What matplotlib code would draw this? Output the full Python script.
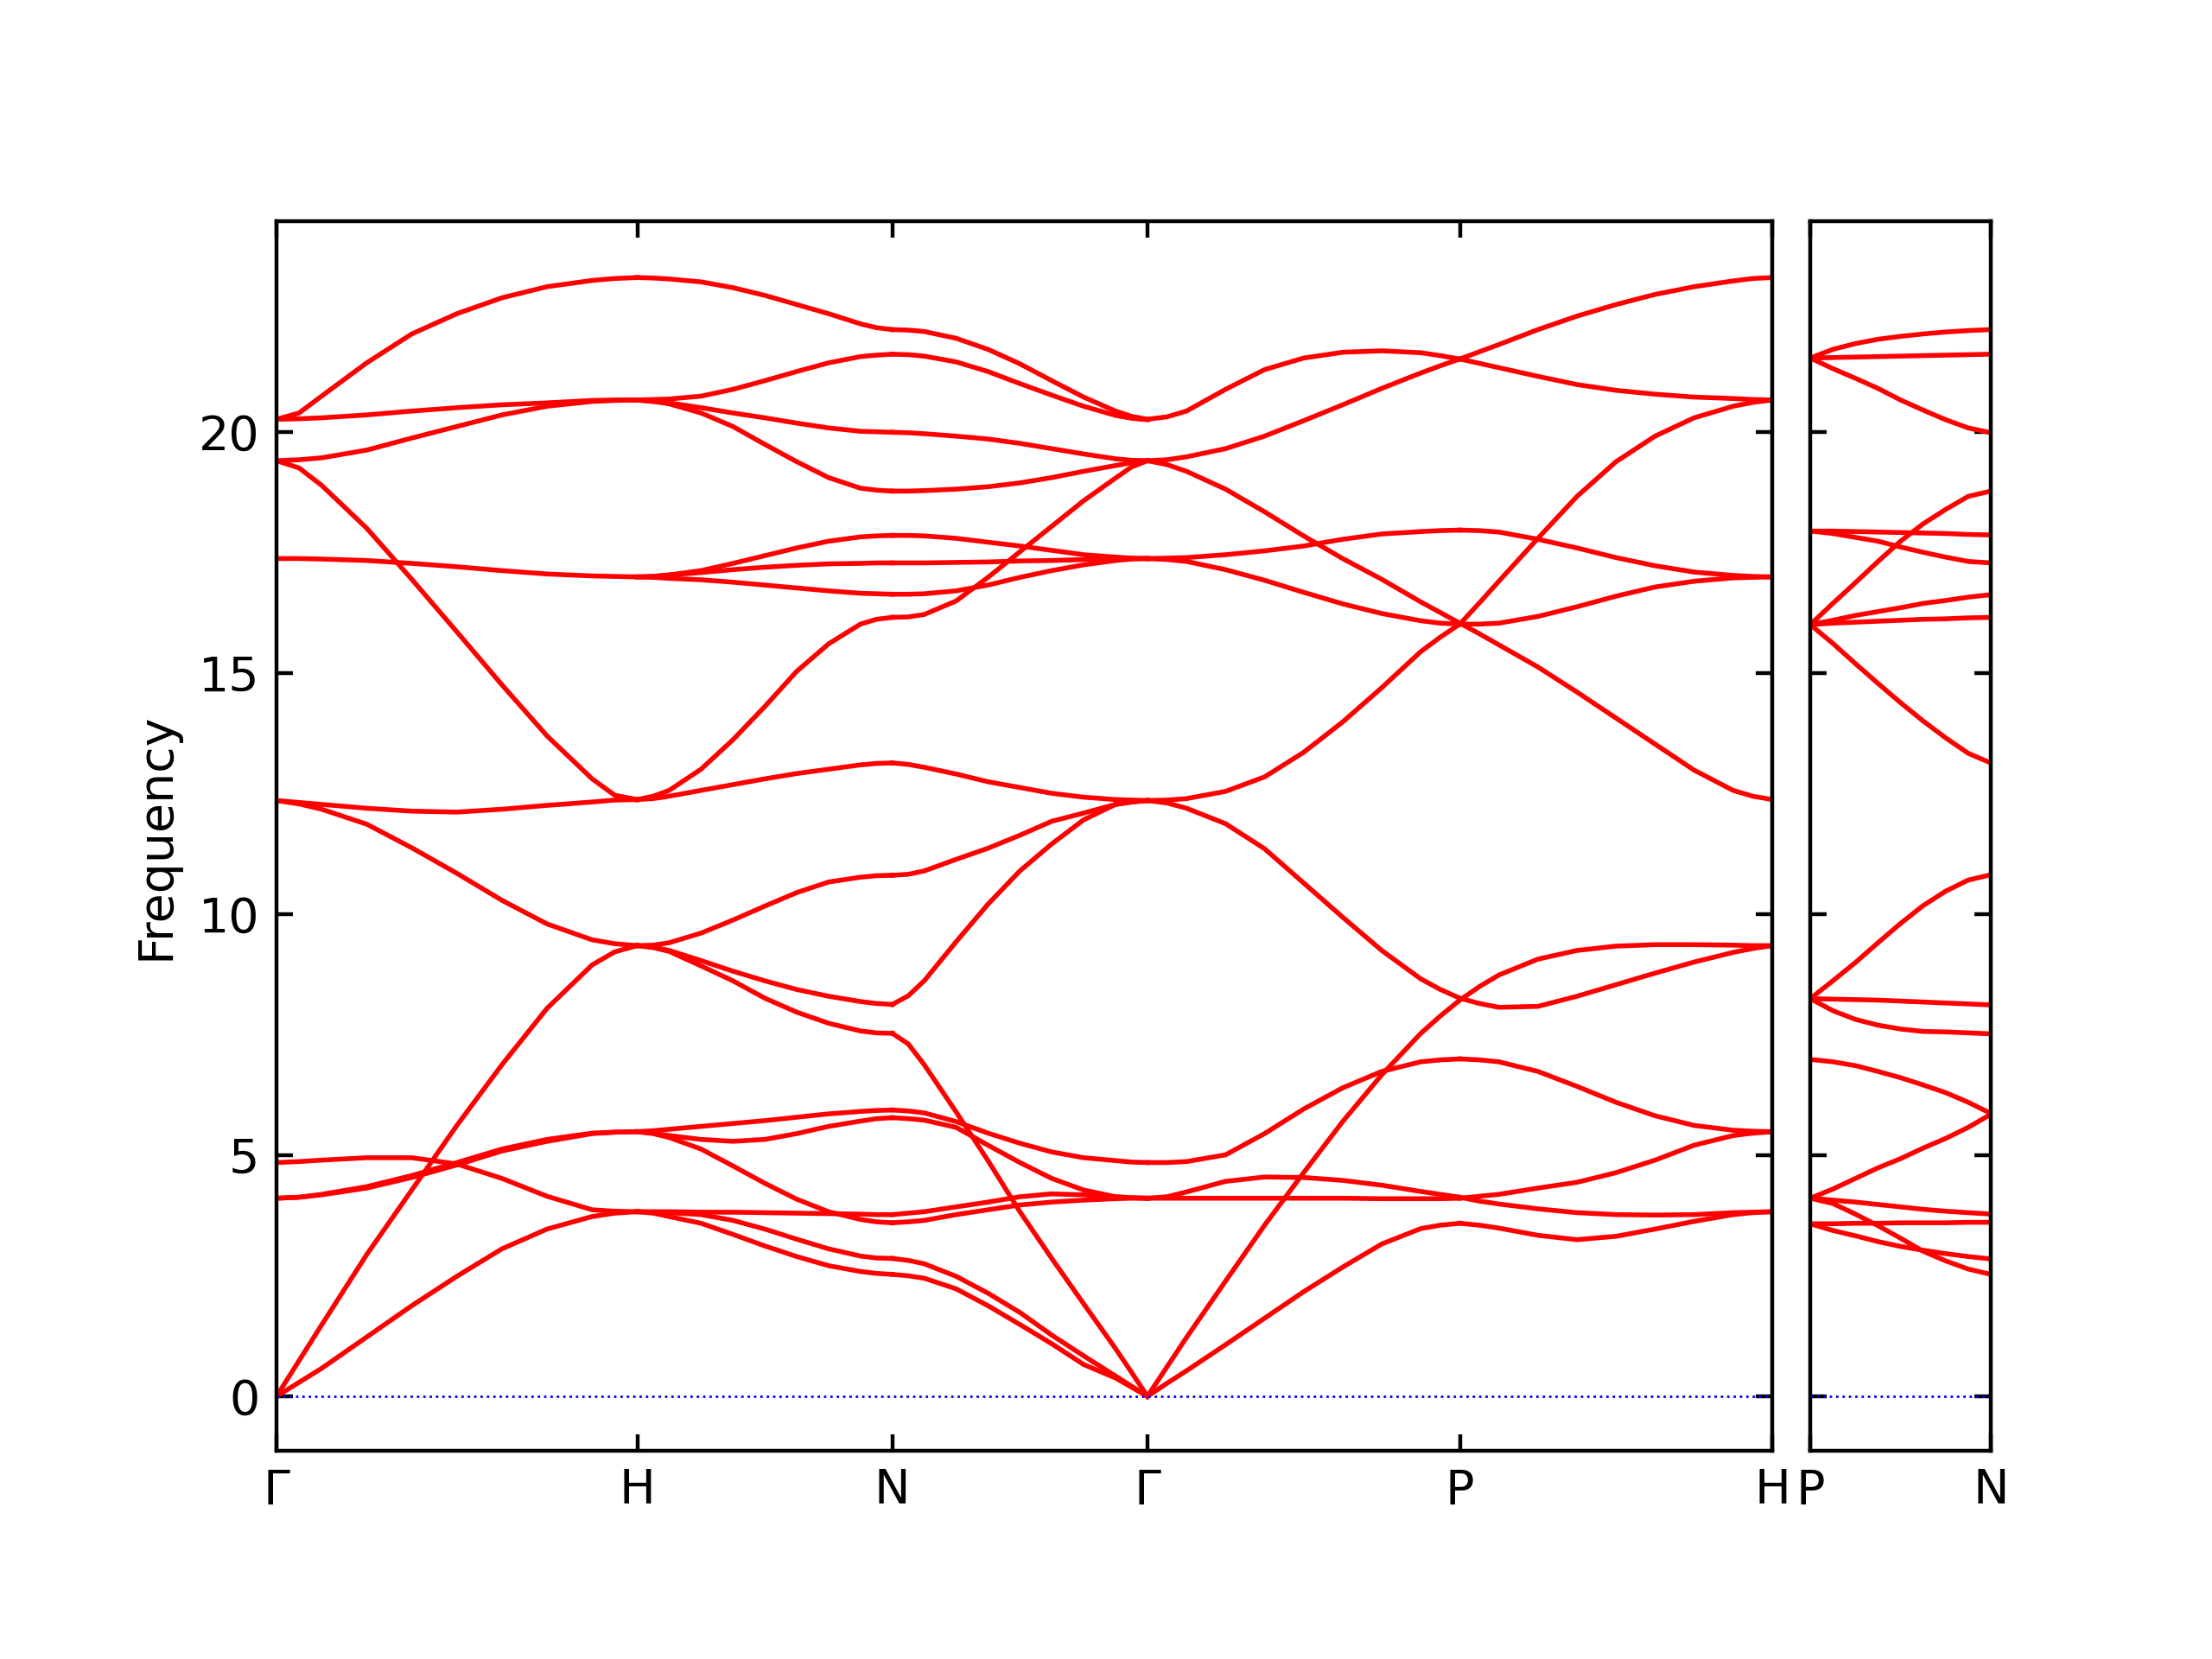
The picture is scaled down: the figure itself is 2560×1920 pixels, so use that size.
import numpy as np
import matplotlib
matplotlib.use("Agg")
import matplotlib.pyplot as plt

# Phonon frequencies.
# Main path samples sit at these fractions of each segment
main_frac = [0, 1 / 16, 1 / 8, 2 / 8, 3 / 8, 4 / 8, 5 / 8, 6 / 8, 7 / 8, 15 / 16, 1]

# Gamma -> H
gh = [
    [20.27, 20.40, 20.75, 21.44, 22.04, 22.46, 22.79, 23.02, 23.15, 23.19, 23.21],
    [20.27, 20.28, 20.30, 20.36, 20.44, 20.51, 20.57, 20.61, 20.66, 20.67, 20.67],
    [19.41, 19.43, 19.47, 19.63, 19.88, 20.12, 20.36, 20.54, 20.64, 20.66, 20.67],
    [19.41, 19.26, 18.90, 18.01, 16.95, 15.86, 14.76, 13.70, 12.81, 12.47, 12.38],
    [17.38, 17.38, 17.37, 17.34, 17.28, 17.21, 17.13, 17.06, 17.02, 17.01, 17.00],
    [12.36, 12.32, 12.28, 12.20, 12.14, 12.12, 12.18, 12.26, 12.33, 12.37, 12.38],
    [12.36, 12.29, 12.18, 11.87, 11.38, 10.85, 10.29, 9.80, 9.47, 9.39, 9.35],
    [0.00, 0.74, 1.48, 2.94, 4.28, 5.62, 6.88, 8.05, 8.95, 9.22, 9.35],
    [4.11, 4.13, 4.18, 4.32, 4.54, 4.80, 5.09, 5.29, 5.45, 5.48, 5.49],
    [4.11, 4.13, 4.19, 4.35, 4.58, 4.85, 5.13, 5.33, 5.46, 5.48, 5.49],
    [4.85, 4.87, 4.90, 4.95, 4.95, 4.82, 4.52, 4.15, 3.87, 3.84, 3.83],
    [0.00, 0.29, 0.58, 1.23, 1.88, 2.49, 3.06, 3.47, 3.73, 3.80, 3.83],
]

# H -> N
hn = [
    [23.21, 23.20, 23.18, 23.12, 23.00, 22.84, 22.65, 22.46, 22.25, 22.17, 22.13],
    [20.67, 20.68, 20.69, 20.75, 20.89, 21.07, 21.26, 21.44, 21.57, 21.60, 21.62],
    [20.67, 20.64, 20.61, 20.51, 20.40, 20.30, 20.19, 20.09, 20.02, 20.01, 20.00],
    [20.67, 20.64, 20.59, 20.40, 20.12, 19.75, 19.39, 19.06, 18.84, 18.80, 18.78],
    [17.00, 17.01, 17.04, 17.13, 17.28, 17.44, 17.60, 17.74, 17.83, 17.85, 17.86],
    [17.00, 17.01, 17.04, 17.09, 17.15, 17.20, 17.24, 17.27, 17.28, 17.29, 17.29],
    [17.00, 16.99, 16.97, 16.94, 16.89, 16.83, 16.77, 16.71, 16.66, 16.65, 16.64],
    [12.38, 12.45, 12.57, 13.01, 13.62, 14.31, 15.04, 15.61, 16.02, 16.12, 16.16],
    [12.38, 12.40, 12.45, 12.57, 12.69, 12.81, 12.92, 13.01, 13.10, 13.13, 13.14],
    [9.35, 9.36, 9.41, 9.61, 9.88, 10.17, 10.45, 10.67, 10.77, 10.80, 10.81],
    [9.35, 9.32, 9.25, 9.04, 8.82, 8.62, 8.44, 8.30, 8.19, 8.15, 8.13],
    [9.35, 9.31, 9.23, 8.93, 8.62, 8.26, 7.97, 7.74, 7.58, 7.54, 7.53],
    [5.49, 5.51, 5.54, 5.60, 5.66, 5.72, 5.79, 5.86, 5.91, 5.93, 5.94],
    [5.49, 5.46, 5.41, 5.33, 5.29, 5.33, 5.45, 5.60, 5.71, 5.76, 5.78],
    [5.49, 5.45, 5.37, 5.13, 4.78, 4.42, 4.09, 3.83, 3.67, 3.62, 3.60],
    [3.83, 3.83, 3.83, 3.82, 3.82, 3.81, 3.80, 3.79, 3.78, 3.77, 3.77],
    [3.83, 3.82, 3.81, 3.77, 3.65, 3.47, 3.26, 3.06, 2.91, 2.87, 2.86],
    [3.83, 3.80, 3.73, 3.59, 3.36, 3.12, 2.90, 2.71, 2.59, 2.55, 2.53],
]

# N -> Gamma
ng = [
    [22.13, 22.12, 22.09, 21.95, 21.72, 21.42, 21.07, 20.73, 20.44, 20.33, 20.27],
    [21.62, 21.61, 21.58, 21.46, 21.26, 21.01, 20.77, 20.54, 20.35, 20.29, 20.26],
    [20.00, 19.99, 19.97, 19.92, 19.86, 19.77, 19.66, 19.55, 19.45, 19.42, 19.41],
    [18.78, 18.78, 18.79, 18.82, 18.87, 18.95, 19.06, 19.19, 19.31, 19.37, 19.41],
    [16.16, 16.17, 16.22, 16.50, 16.99, 17.52, 18.05, 18.58, 19.05, 19.28, 19.41],
    [17.86, 17.86, 17.85, 17.80, 17.72, 17.64, 17.55, 17.46, 17.41, 17.39, 17.38],
    [17.29, 17.29, 17.29, 17.30, 17.31, 17.33, 17.34, 17.36, 17.37, 17.38, 17.38],
    [16.64, 16.64, 16.65, 16.71, 16.83, 16.99, 17.13, 17.25, 17.34, 17.37, 17.38],
    [13.14, 13.11, 13.05, 12.91, 12.75, 12.63, 12.51, 12.43, 12.38, 12.37, 12.36],
    [10.81, 10.83, 10.90, 11.14, 11.37, 11.64, 11.93, 12.10, 12.28, 12.33, 12.36],
    [8.13, 8.31, 8.62, 9.43, 10.21, 10.90, 11.46, 11.96, 12.28, 12.33, 12.36],
    [7.53, 7.31, 6.88, 5.90, 4.89, 3.83, 2.86, 1.92, 0.99, 0.50, 0.00],
    [5.94, 5.92, 5.88, 5.70, 5.46, 5.25, 5.07, 4.95, 4.89, 4.86, 4.85],
    [5.78, 5.76, 5.73, 5.58, 5.21, 4.85, 4.52, 4.28, 4.14, 4.12, 4.11],
    [3.60, 3.62, 3.65, 3.77, 3.87, 3.97, 4.03, 4.07, 4.10, 4.11, 4.11],
    [3.77, 3.80, 3.83, 3.93, 4.03, 4.14, 4.20, 4.18, 4.14, 4.12, 4.11],
    [2.86, 2.82, 2.75, 2.49, 2.14, 1.74, 1.27, 0.84, 0.42, 0.21, 0.00],
    [2.53, 2.50, 2.45, 2.23, 1.88, 1.49, 1.09, 0.66, 0.38, 0.19, 0.00],
]

# Gamma -> P
gp = [
    [20.27, 20.32, 20.44, 20.89, 21.30, 21.54, 21.66, 21.69, 21.65, 21.59, 21.52],
    [19.41, 19.43, 19.49, 19.66, 19.92, 20.24, 20.57, 20.91, 21.23, 21.38, 21.52],
    [19.41, 19.33, 19.19, 18.82, 18.35, 17.85, 17.38, 16.95, 16.48, 16.26, 16.04],
    [17.38, 17.39, 17.40, 17.46, 17.54, 17.64, 17.78, 17.89, 17.94, 17.96, 17.97],
    [17.38, 17.36, 17.32, 17.15, 16.93, 16.68, 16.44, 16.24, 16.09, 16.04, 16.02],
    [12.36, 12.37, 12.40, 12.55, 12.85, 13.36, 13.99, 14.70, 15.45, 15.75, 16.02],
    [12.36, 12.31, 12.20, 11.88, 11.36, 10.65, 9.94, 9.25, 8.66, 8.44, 8.26],
    [0.00, 0.61, 1.22, 2.39, 3.55, 4.64, 5.70, 6.67, 7.53, 7.89, 8.22],
    [4.85, 4.85, 4.87, 5.01, 5.45, 5.96, 6.40, 6.74, 6.94, 6.98, 7.00],
    [4.11, 4.14, 4.24, 4.46, 4.55, 4.54, 4.48, 4.38, 4.25, 4.19, 4.13],
    [4.11, 4.11, 4.11, 4.11, 4.11, 4.11, 4.11, 4.10, 4.10, 4.10, 4.11],
    [0.00, 0.27, 0.53, 1.07, 1.62, 2.17, 2.68, 3.16, 3.48, 3.55, 3.59],
]

# P -> H
ph = [
    [21.52, 21.43, 21.34, 21.16, 20.99, 20.87, 20.79, 20.73, 20.70, 20.68, 20.67],
    [21.52, 21.67, 21.82, 22.13, 22.41, 22.65, 22.86, 23.02, 23.14, 23.19, 23.21],
    [16.04, 15.82, 15.59, 15.13, 14.61, 14.07, 13.53, 12.99, 12.57, 12.45, 12.38],
    [17.97, 17.96, 17.93, 17.78, 17.60, 17.40, 17.23, 17.10, 17.03, 17.01, 17.00],
    [16.02, 16.02, 16.04, 16.18, 16.38, 16.60, 16.79, 16.91, 16.98, 16.99, 17.00],
    [16.02, 16.46, 16.91, 17.80, 18.67, 19.39, 19.92, 20.30, 20.54, 20.62, 20.67],
    [8.26, 8.15, 8.07, 8.09, 8.30, 8.54, 8.78, 9.01, 9.21, 9.29, 9.35],
    [8.22, 8.50, 8.74, 9.07, 9.25, 9.34, 9.37, 9.37, 9.36, 9.35, 9.35],
    [7.00, 6.98, 6.94, 6.74, 6.43, 6.10, 5.82, 5.62, 5.52, 5.50, 5.49],
    [4.13, 4.05, 3.99, 3.89, 3.81, 3.77, 3.76, 3.77, 3.81, 3.82, 3.83],
    [4.11, 4.15, 4.19, 4.32, 4.44, 4.64, 4.90, 5.21, 5.41, 5.46, 5.49],
    [3.59, 3.55, 3.49, 3.34, 3.25, 3.32, 3.47, 3.63, 3.77, 3.81, 3.83],
]

# P -> N (separate panel), 9 evenly spaced samples
pn = [
    [21.54, 21.72, 21.84, 21.93, 21.99, 22.04, 22.08, 22.11, 22.13],
    [21.54, 21.55, 21.56, 21.57, 21.58, 21.59, 21.60, 21.61, 21.62],
    [21.54, 21.32, 21.12, 20.91, 20.67, 20.46, 20.26, 20.09, 19.99],
    [17.95, 17.95, 17.94, 17.93, 17.92, 17.91, 17.90, 17.88, 17.87],
    [17.95, 17.90, 17.82, 17.74, 17.62, 17.51, 17.41, 17.32, 17.29],
    [16.01, 16.45, 16.88, 17.32, 17.74, 18.10, 18.40, 18.67, 18.78],
    [16.01, 16.10, 16.20, 16.28, 16.36, 16.45, 16.51, 16.58, 16.63],
    [16.01, 16.04, 16.06, 16.08, 16.10, 16.12, 16.13, 16.15, 16.16],
    [16.01, 15.62, 15.20, 14.79, 14.39, 14.01, 13.66, 13.34, 13.14],
    [8.25, 8.62, 9.00, 9.41, 9.81, 10.18, 10.48, 10.71, 10.82],
    [8.25, 8.24, 8.23, 8.22, 8.20, 8.18, 8.16, 8.14, 8.12],
    [8.25, 8.00, 7.82, 7.70, 7.62, 7.57, 7.56, 7.54, 7.52],
    [6.99, 6.94, 6.86, 6.74, 6.61, 6.46, 6.30, 6.10, 5.87],
    [4.11, 4.30, 4.52, 4.74, 4.93, 5.15, 5.35, 5.58, 5.85],
    [4.11, 4.07, 4.03, 3.98, 3.93, 3.88, 3.84, 3.81, 3.78],
    [4.11, 4.00, 3.78, 3.54, 3.28, 3.01, 2.81, 2.64, 2.53],
    [3.58, 3.58, 3.59, 3.59, 3.60, 3.60, 3.60, 3.61, 3.61],
    [3.58, 3.44, 3.33, 3.21, 3.11, 3.03, 2.96, 2.90, 2.85],
]

main_segments = [gh, hn, ng, gp, ph]
# path lengths in units of 2pi/a for bcc
main_lengths = [1.0, np.sqrt(2) / 2, np.sqrt(2) / 2, np.sqrt(3) / 2, np.sqrt(3) / 2]
main_labels = ["Γ", "H", "N", "Γ", "P", "H"]
side_length = 0.5
side_labels = ["P", "N"]

fig = plt.figure(figsize=(6.4, 4.8), dpi=400)
ax1 = fig.add_axes([0.125, 0.1255, 0.6762, 0.7412])
ax2 = fig.add_axes([0.8184, 0.1255, 0.0816, 0.7412])

# Main path
start = 0.0
tick_pos = [0.0]
for bands, length in zip(main_segments, main_lengths):
    x = start + length * np.array(main_frac)
    for b in bands:
        ax1.plot(x, b, color="red", lw=1.0)
    start += length
    tick_pos.append(start)

# Side path P -> N
x = np.linspace(0.0, side_length, len(pn[0]))
for b in pn:
    ax2.plot(x, b, color="red", lw=1.0)

for ax in (ax1, ax2):
    ax.axhline(0, color="blue", ls=":", lw=0.5)
    ax.set_ylim(-1.13, 24.38)
    ax.set_yticks([0, 5, 10, 15, 20])
    ax.tick_params(direction="in", top=True, right=True)

ax1.set_xlim(0, start)
ax1.set_xticks(tick_pos)
ax1.set_xticklabels(main_labels)
ax1.set_ylabel("Frequency")

ax2.set_xlim(0, side_length)
ax2.set_xticks([0, side_length])
ax2.set_xticklabels(side_labels)
ax2.set_yticklabels([])

plt.savefig("out.png", dpi=400)
